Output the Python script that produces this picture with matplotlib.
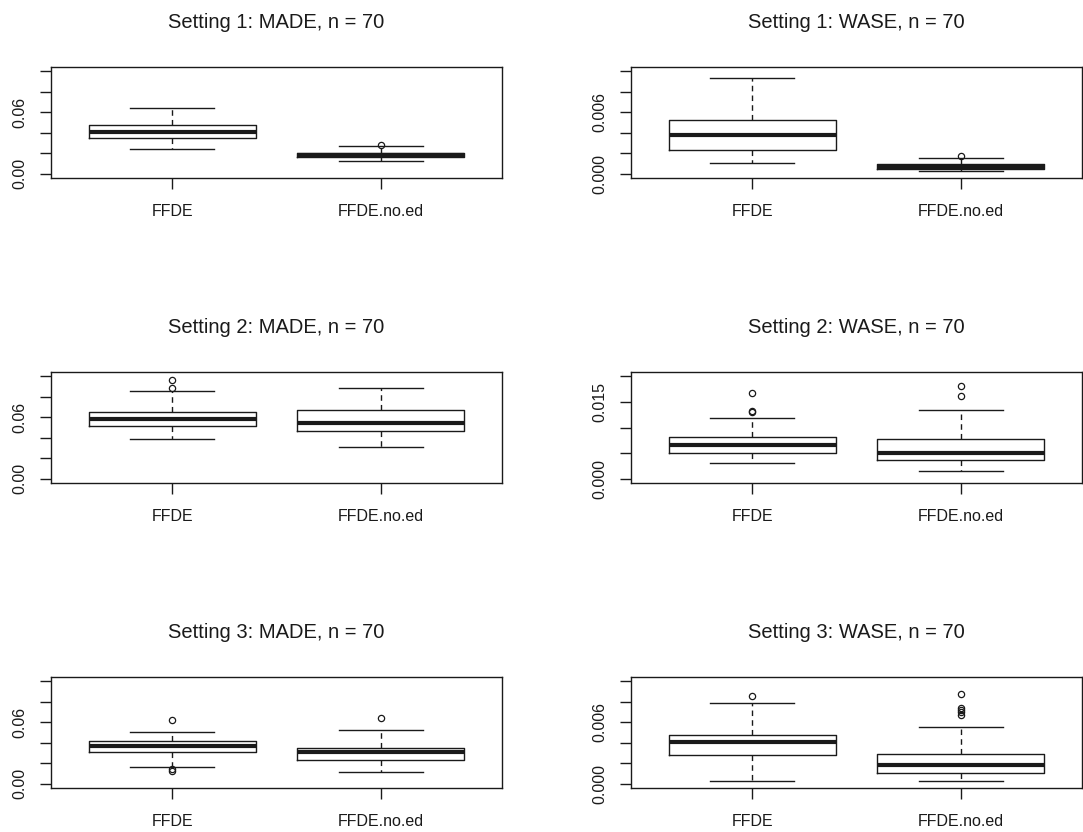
import matplotlib
matplotlib.use("Agg")
import matplotlib.pyplot as plt

plt.rcParams['font.family'] = ['Liberation Sans', 'DejaVu Sans']

# ---- data ----
groups = ["FFDE", "FFDE.no.ed"]
titles = [["Setting 1: MADE, n = 70", "Setting 1: WASE, n = 70"],
          ["Setting 2: MADE, n = 70", "Setting 2: WASE, n = 70"],
          ["Setting 3: MADE, n = 70", "Setting 3: WASE, n = 70"]]

# (whislo, q1, median, q3, whishi) per group, plus outliers
s1_made_ffde = [0.0244, 0.0350, 0.0406, 0.0480, 0.0643]
s1_made_ffde_out = []
s1_made_noed = [0.0125, 0.0168, 0.0188, 0.0205, 0.0270]
s1_made_noed_out = [0.0282]

s1_wase_ffde = [0.0011, 0.00237, 0.0038, 0.00529, 0.00935]
s1_wase_ffde_out = []
s1_wase_noed = [0.00032, 0.00048, 0.00070, 0.00095, 0.00153]
s1_wase_noed_out = [0.00172]

s2_made_ffde = [0.0386, 0.0516, 0.0578, 0.0650, 0.0860]
s2_made_ffde_out = [0.0880, 0.0958]
s2_made_noed = [0.0308, 0.0464, 0.0542, 0.0669, 0.0886]
s2_made_noed_out = []

s2_wase_ffde = [0.0030, 0.0051, 0.0065, 0.0081, 0.0119]
s2_wase_ffde_out = [0.0130, 0.0133, 0.01675]
s2_wase_noed = [0.0015, 0.0036, 0.0050, 0.0078, 0.0134]
s2_wase_noed_out = [0.0162, 0.0181]

s3_made_ffde = [0.0166, 0.0313, 0.0371, 0.0414, 0.0508]
s3_made_ffde_out = [0.0130, 0.0147, 0.0622]
s3_made_noed = [0.0114, 0.0231, 0.0310, 0.0345, 0.0524]
s3_made_noed_out = [0.0642]

s3_wase_ffde = [0.0003, 0.00277, 0.0041, 0.00476, 0.00785]
s3_wase_ffde_out = [0.00857]
s3_wase_noed = [0.0003, 0.00104, 0.00179, 0.0029, 0.00554]
s3_wase_noed_out = [0.00668, 0.00704, 0.0072, 0.00736, 0.00873]

made_ticks = [0.00, 0.02, 0.04, 0.06, 0.08, 0.10]
made_labels = ["0.00", "", "", "0.06", "", ""]
wase_ticks = [0.000, 0.002, 0.004, 0.006, 0.008, 0.010]
wase_labels = ["0.000", "", "", "0.006", "", ""]
wase2_ticks = [0.000, 0.005, 0.010, 0.015, 0.020]
wase2_labels = ["0.000", "", "", "0.015", ""]

panels = [
    [(s1_made_ffde, s1_made_ffde_out, s1_made_noed, s1_made_noed_out, made_ticks, made_labels),
     (s1_wase_ffde, s1_wase_ffde_out, s1_wase_noed, s1_wase_noed_out, wase_ticks, wase_labels)],
    [(s2_made_ffde, s2_made_ffde_out, s2_made_noed, s2_made_noed_out, made_ticks, made_labels),
     (s2_wase_ffde, s2_wase_ffde_out, s2_wase_noed, s2_wase_noed_out, wase2_ticks, wase2_labels)],
    [(s3_made_ffde, s3_made_ffde_out, s3_made_noed, s3_made_noed_out, made_ticks, made_labels),
     (s3_wase_ffde, s3_wase_ffde_out, s3_wase_noed, s3_wase_noed_out, wase_ticks, wase_labels)],
]

# ---- layout ----
W, H = 1083, 832
fig = plt.figure(figsize=(W / 100, H / 100), dpi=100)
col_left = [51, 631]
ax_w = 451
ax_h = 111
row_bottom = [178, 483, 788]

ink = "#1a1a1a"

def stat(v, out, label):
    return dict(whislo=v[0], q1=v[1], med=v[2], q3=v[3], whishi=v[4],
                fliers=out, label=label)

for r in range(3):
    for c in range(2):
        a1, o1, a2, o2, ticks, labels = panels[r][c]
        x0 = col_left[c] / W
        y0 = (H - row_bottom[r]) / H
        ax = fig.add_axes([x0, y0, ax_w / W, ax_h / H])
        ax.bxp([stat(a1, o1, groups[0]), stat(a2, o2, groups[1])],
               positions=[1, 2], widths=0.8,
               boxprops=dict(color=ink, linewidth=1.0),
               whiskerprops=dict(color=ink, linewidth=1.0, linestyle=(0, (4, 3))),
               capprops=dict(color=ink, linewidth=1.0),
               medianprops=dict(color=ink, linewidth=3.0, solid_capstyle='butt'),
               flierprops=dict(marker='o', markerfacecolor='none',
                               markeredgecolor=ink, markersize=4.5,
                               markeredgewidth=0.9, linestyle='none'))
        ax.set_xlim(0.42, 2.58)
        lo, hi = ticks[0], ticks[-1]
        pad = 0.04 * (hi - lo)
        ax.set_ylim(lo - pad, hi + pad)
        ax.set_yticks(ticks)
        ax.set_yticklabels(labels, rotation=90, va='center')
        ax.set_xticks([1, 2])
        ax.set_xticklabels(groups)
        ax.tick_params(axis='both', direction='out', length=8, width=1.0,
                       colors=ink, labelsize=11.5)
        ax.tick_params(axis='x', pad=11)
        ax.tick_params(axis='y', pad=9)
        for sp in ax.spines.values():
            sp.set_linewidth(1.0)
            sp.set_color(ink)
        ax.set_title(titles[r][c], fontsize=14.5, color=ink, pad=28)

fig.savefig("out.png", dpi=100)
